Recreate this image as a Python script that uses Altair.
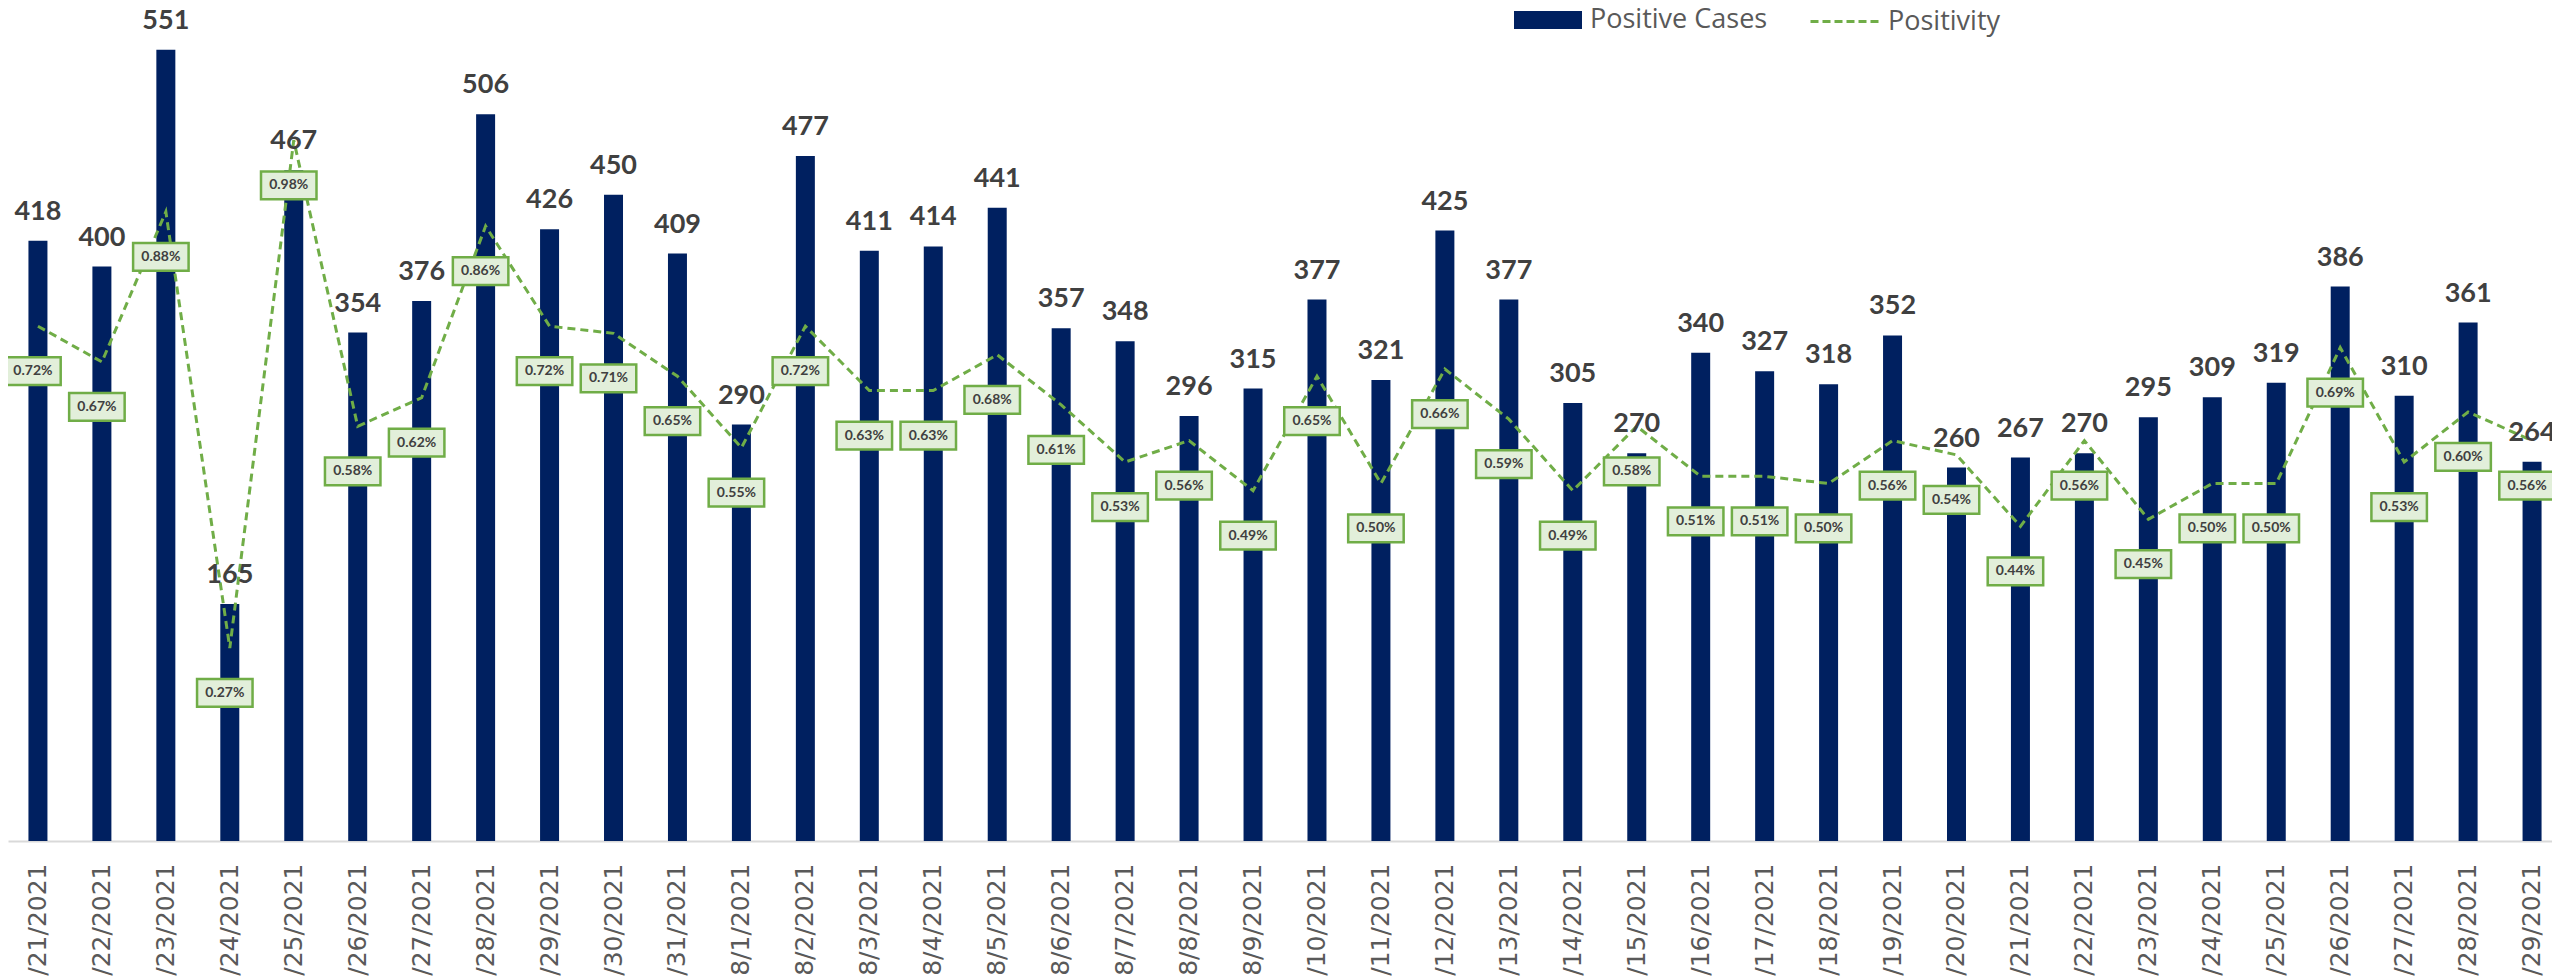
import altair as alt
import pandas as pd

dates = [
    "7/21/2021", "7/22/2021", "7/23/2021", "7/24/2021", "7/25/2021", "7/26/2021",
    "7/27/2021", "7/28/2021", "7/29/2021", "7/30/2021", "7/31/2021", "8/1/2021",
    "8/2/2021", "8/3/2021", "8/4/2021", "8/5/2021", "8/6/2021", "8/7/2021",
    "8/8/2021", "8/9/2021", "8/10/2021", "8/11/2021", "8/12/2021", "8/13/2021",
    "8/14/2021", "8/15/2021", "8/16/2021", "8/17/2021", "8/18/2021", "8/19/2021",
    "8/20/2021", "8/21/2021", "8/22/2021", "8/23/2021", "8/24/2021", "8/25/2021",
    "8/26/2021", "8/27/2021", "8/28/2021", "8/29/2021",
]
cases = [
    418, 400, 551, 165, 467, 354, 376, 506, 426, 450, 409, 290, 477, 411, 414,
    441, 357, 348, 296, 315, 377, 321, 425, 377, 305, 270, 340, 327, 318, 352,
    260, 267, 270, 295, 309, 319, 386, 310, 361, 264,
]
positivity = [
    0.72, 0.67, 0.88, 0.27, 0.98, 0.58, 0.62, 0.86, 0.72, 0.71, 0.65, 0.55,
    0.72, 0.63, 0.63, 0.68, 0.61, 0.53, 0.56, 0.49, 0.65, 0.50, 0.66, 0.59,
    0.49, 0.58, 0.51, 0.51, 0.50, 0.56, 0.54, 0.44, 0.56, 0.45, 0.50, 0.50,
    0.69, 0.53, 0.60, 0.56,
]

df = pd.DataFrame({"date": dates, "cases": cases, "pos": positivity})
df["pos_label"] = [f"{v:.2f}%" for v in positivity]
df["s1"] = "Positive Cases"
df["s2"] = "Positivity"

BLUE = "#002060"
GREEN = "#70AD47"

x = alt.X(
    "date:N",
    sort=dates,
    scale=alt.Scale(paddingInner=0.703, paddingOuter=0.2415, align=0.662),
    axis=alt.Axis(
        title=None, labelAngle=270, labelFont="DejaVu Sans", labelFontSize=25,
        labelColor="#595959", ticks=False, domainColor="#D9D9D9", domainWidth=2,
        labelPadding=22, labelAlign="right", labelBaseline="middle",
        labelOverlap=False, grid=False, labelLimit=0,
    ),
)
y1 = alt.Y("cases:Q", scale=alt.Scale(domain=[0, 580]), axis=None)
y2 = alt.Y("pos:Q", scale=alt.Scale(domain=[0, 1.165]), axis=None)

base = alt.Chart(df)

bars = base.mark_bar().encode(
    x=x,
    y=y1,
    fill=alt.Fill(
        "s1:N",
        scale=alt.Scale(range=[BLUE]),
        legend=alt.Legend(
            title=None, orient="none", legendX=1506, legendY=-22,
            symbolType="M-1,-0.265H1V0.265H-1Z", symbolSize=4624,
            symbolStrokeWidth=0, labelFont="Open Sans", labelFontSize=27,
            labelColor="#595959", labelOffset=8, padding=0, labelLimit=0,
        ),
    ),
)

line = base.mark_line(strokeWidth=3, strokeDash=[8, 5]).encode(
    x=x,
    y=y2,
    stroke=alt.Stroke(
        "s2:N",
        scale=alt.Scale(range=[GREEN]),
        legend=alt.Legend(
            title=None, orient="none", legendX=1801, legendY=-22,
            symbolType="stroke", symbolSize=4624, symbolStrokeWidth=3,
            symbolDash=[8, 4], labelFont="Open Sans", labelFontSize=27,
            labelColor="#595959", labelOffset=8, padding=0, labelLimit=0,
        ),
    ),
)

boxes = base.mark_point(
    shape="M-1,-0.5H1V0.5H-1Z", size=3080, filled=True, fill="#E2EFDA",
    stroke=GREEN, strokeWidth=2.5, opacity=1, yOffset=45, xOffset=-5,
).encode(x=x, y=y2)

pct_text = base.mark_text(
    font="Lato", fontWeight="bold", fontSize=14, color="#404040",
    dy=45, dx=-5, baseline="middle", align="center",
).encode(x=x, y=y2, text="pos_label:N")

bar_text = base.mark_text(
    font="Lato", fontWeight="bold", fontSize=27, color="#404040",
    baseline="alphabetic", dy=-21, align="center",
).encode(x=x, y=y1, text="cases:Q")

chart = (
    alt.layer(bars, line, boxes, pct_text, bar_text)
    .resolve_scale(y="independent")
    .properties(
        width=2544, height=833,
        autosize=alt.AutoSizeParams(type="none"),
        padding={"left": 0, "top": 0, "right": 0, "bottom": 136},
        background="white",
    )
    .configure_view(stroke=None)
)

chart.save("out.html", embed_options={"renderer": "svg", "actions": False})
